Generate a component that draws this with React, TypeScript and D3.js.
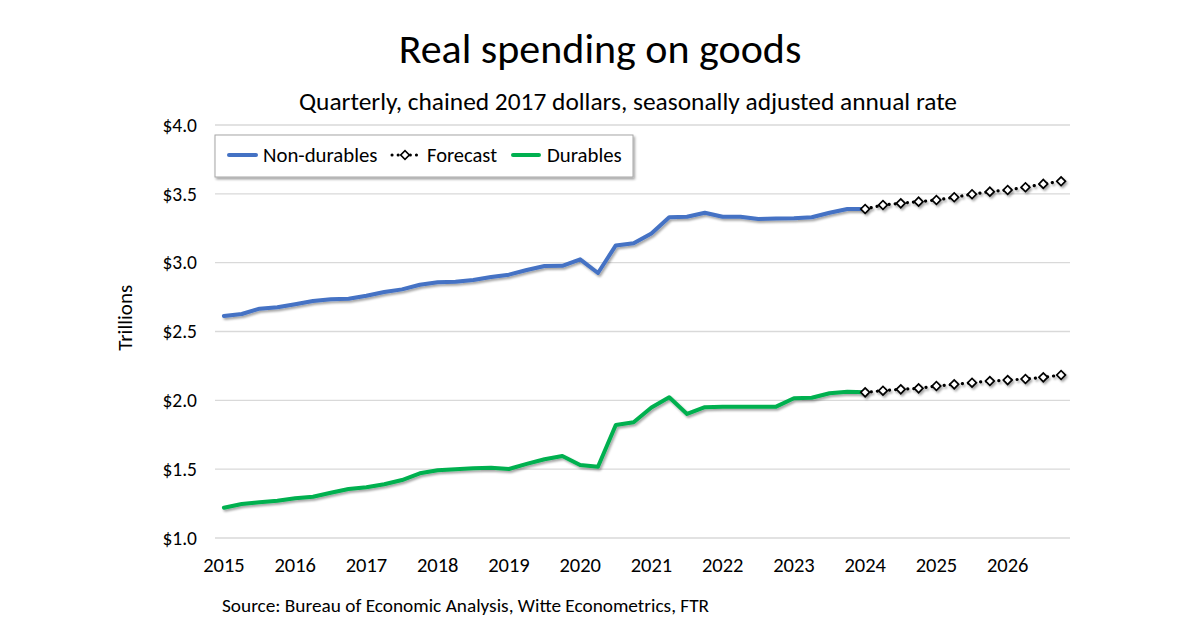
import React from "react";
import * as d3 from "d3";

const years = ["2015","2016","2017","2018","2019","2020","2021","2022","2023","2024","2025","2026"];
const quarterIds: string[] = years.flatMap((y) => ["Q1","Q2","Q3","Q4"].map((q) => `${y}${q}`));
const yTicks = [1.0, 1.5, 2.0, 2.5, 3.0, 3.5, 4.0];

// Actual data 2015Q1 - 2024Q1 (trillions)
const nonDurables = [2.613, 2.627, 2.666, 2.676, 2.698, 2.722, 2.734, 2.738, 2.760, 2.787, 2.806, 2.840,
  2.857, 2.862, 2.874, 2.896, 2.913, 2.947, 2.976, 2.977, 3.024, 2.925, 3.125, 3.141, 3.212, 3.330,
  3.334, 3.363, 3.334, 3.334, 3.317, 3.320, 3.322, 3.330, 3.363, 3.390, 3.390];
const durables = [1.220, 1.247, 1.259, 1.271, 1.288, 1.300, 1.329, 1.356, 1.368, 1.390, 1.421, 1.470,
  1.492, 1.499, 1.506, 1.511, 1.501, 1.538, 1.572, 1.596, 1.530, 1.518, 1.821, 1.841, 1.948, 2.022,
  1.901, 1.950, 1.954, 1.954, 1.954, 1.954, 2.015, 2.019, 2.051, 2.063, 2.058];
// Forecast 2024Q1 - 2026Q4
const forecastNonDurables = [3.390, 3.419, 3.431, 3.443, 3.455, 3.475, 3.497, 3.516, 3.528, 3.548, 3.572, 3.591];
const forecastDurables = [2.058, 2.070, 2.080, 2.087, 2.104, 2.116, 2.128, 2.140, 2.147, 2.155, 2.167, 2.184];

const FONT = "Carlito, Calibri, Lato, sans-serif";
const BLUE = "#4472C4";
const GREEN = "#00B050";

export default function App() {
  const W = 1200, H = 628;
  const x = d3.scalePoint<string>().domain(quarterIds).range([215, 1070]).padding(0.5);
  const y = d3.scaleLinear().domain([1, 4]).range([538, 125]);
  const line = d3.line<[string, number]>().x((d) => x(d[0])!).y((d) => y(d[1]));
  const fcStart = nonDurables.length - 1;
  const ndPts: [string, number][] = nonDurables.map((v, i) => [quarterIds[i], v]);
  const dPts: [string, number][] = durables.map((v, i) => [quarterIds[i], v]);
  const fndPts: [string, number][] = forecastNonDurables.map((v, i) => [quarterIds[fcStart + i], v]);
  const fdPts: [string, number][] = forecastDurables.map((v, i) => [quarterIds[fcStart + i], v]);
  const diamond = d3.symbol().type(d3.symbolSquare).size(38)()!;
  const fmt = (v: number) => "$" + v.toFixed(1);

  const forecast = (pts: [string, number][], key: string) => (
    <g key={key} filter="url(#shadow)">
      <path d={line(pts)!} fill="none" stroke="#000" strokeWidth={3.2} strokeDasharray="0.1 6" strokeLinecap="round" />
      {pts.map((p, i) => (
        <path key={i} d={diamond} transform={`translate(${x(p[0])},${y(p[1])}) rotate(45)`} fill="#fff" stroke="#000" strokeWidth={1.7} />
      ))}
    </g>
  );

  return (
    <svg width={W} height={H} style={{ position: "absolute", left: 0, top: 0, background: "#fff" }} fontFamily={FONT}>
      <defs>
        <filter id="shadow" x="-10%" y="-10%" width="120%" height="130%">
          <feDropShadow dx="1.5" dy="2" stdDeviation="1.2" floodColor="#000" floodOpacity="0.35" />
        </filter>
      </defs>
      <rect x={0} y={0} width={W} height={H} fill="#fff" />
      <text x={600} y={63} textAnchor="middle" fontSize={42} fill="#000">Real spending on goods</text>
      <text x={628} y={110} textAnchor="middle" fontSize={25.4} fill="#000">Quarterly, chained 2017 dollars, seasonally adjusted annual rate</text>

      {yTicks.map((t) => (
        <g key={t}>
          <line x1={215} x2={1070} y1={y(t)} y2={y(t)} stroke="#d9d9d9" strokeWidth={1.3} />
          <text x={197} y={y(t)} dy="0.35em" textAnchor="end" fontSize={19.5} fill="#000">{fmt(t)}</text>
        </g>
      ))}
      <text transform={`translate(132,${y(2.6)}) rotate(-90)`} textAnchor="middle" fontSize={21} fill="#000">Trillions</text>

      {years.map((yr) => (
        <text key={yr} x={x(`${yr}Q1`)} y={572} textAnchor="middle" fontSize={20.5} fill="#000">{yr}</text>
      ))}

      <g filter="url(#shadow)">
        <path d={line(ndPts)!} fill="none" stroke={BLUE} strokeWidth={4} strokeLinejoin="round" strokeLinecap="round" />
        <path d={line(dPts)!} fill="none" stroke={GREEN} strokeWidth={4} strokeLinejoin="round" strokeLinecap="round" />
      </g>
      {forecast(fndPts, "fnd")}
      {forecast(fdPts, "fd")}

      <g>
        <rect x={215} y={135} width={418} height={42} fill="#fff" stroke="#a6a6a6" strokeWidth={1} filter="url(#shadow)" />
        <line x1={229} x2={256} y1={155} y2={155} stroke={BLUE} strokeWidth={4} strokeLinecap="round" />
        <text x={263} y={155} dy="0.35em" fontSize={20.8} fill="#000">Non-durables</text>
        <line x1={392} x2={418} y1={155} y2={155} stroke="#000" strokeWidth={3} strokeDasharray="0.1 6" strokeLinecap="round" />
        <path d={diamond} transform={`translate(405,155) rotate(45)`} fill="#fff" stroke="#000" strokeWidth={1.6} />
        <text x={427} y={155} dy="0.35em" fontSize={20.5} fill="#000">Forecast</text>
        <line x1={513} x2={539} y1={155} y2={155} stroke={GREEN} strokeWidth={4} strokeLinecap="round" />
        <text x={547} y={155} dy="0.35em" fontSize={20.8} fill="#000">Durables</text>
      </g>

      <text x={222} y={612} fontSize={19.3} fill="#000">Source: Bureau of Economic Analysis, Witte Econometrics, FTR</text>
    </svg>
  );
}
